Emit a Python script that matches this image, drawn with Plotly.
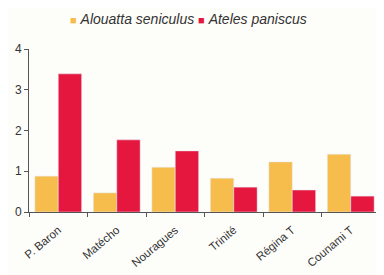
import plotly.graph_objects as go

categories = ["P. Baron", "Matécho", "Nouragues", "Trinité", "Régina T", "Counami T"]
series_names = ["Alouatta seniculus", "Ateles paniscus"]
alouatta = [0.88, 0.47, 1.10, 0.83, 1.23, 1.42]
ateles = [3.39, 1.77, 1.50, 0.61, 0.54, 0.39]
colors = ["#F6BD4C", "#E5173F"]

fig = go.Figure()
fig.add_bar(x=categories, y=alouatta, name=series_names[0], marker_color=colors[0])
fig.add_bar(x=categories, y=ateles, name=series_names[1], marker_color=colors[1])

legend_html = " ".join(
    f'<span style="color:{c};font-size:11px">■</span> <i>{n}</i>'
    for n, c in zip(series_names, colors)
)
fig.add_annotation(text=legend_html, xref="paper", yref="paper", x=0.453, y=1.185,
                   xanchor="center", yanchor="middle", showarrow=False,
                   font=dict(size=14, color="#333", family="Liberation Sans, Arial"))

fig.update_layout(
    width=376, height=267,
    barmode="group", bargap=0.2, bargroupgap=0,
    paper_bgcolor="#FDFDFA", plot_bgcolor="#FDFDFA",
    margin=dict(l=21, r=4, t=41, b=63, autoexpand=False),
    font=dict(family="Liberation Sans, Arial", size=10, color="#333"),
    showlegend=False,
)
fig.update_yaxes(range=[0, 4], tickvals=[0, 1, 2, 3, 4], showgrid=False, zeroline=False,
                 showline=True, linecolor="#555", linewidth=1, ticks="outside", ticklen=4,
                 tickcolor="#555", tickfont=dict(size=12, color="#333"), automargin=False)
fig.update_xaxes(showgrid=False, showline=True, linecolor="#555", linewidth=1,
                 ticks="outside", tickson="boundaries", ticklen=4, tickcolor="#555",
                 tickangle=-40, tickfont=dict(size=11.5, color="#333"), automargin=False,
                 ticklabelstandoff=6)

fig.write_html("out.html")
